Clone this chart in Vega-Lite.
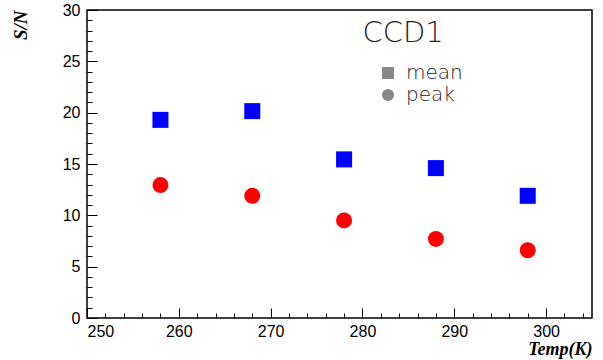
{
  "$schema": "https://vega.github.io/schema/vega-lite/v6.json",
  "width": 505,
  "height": 308,
  "autosize": {"type": "none"},
  "padding": {"left": 87, "top": 10, "right": 11, "bottom": 42},
  "background": "white",
  "config": {
    "view": {"stroke": "black", "strokeWidth": 1.5},
    "axis": {"grid": false, "domain": false, "labelFont": "Liberation Sans", "labelFontSize": 16, "labelColor": "black", "tickColor": "black", "titleColor": "black"}
  },
  "datasets": {
    "pts": [
      {"temp": 258, "sn": 19.3, "series": "mean"},
      {"temp": 268, "sn": 20.15, "series": "mean"},
      {"temp": 278, "sn": 15.45, "series": "mean"},
      {"temp": 288, "sn": 14.6, "series": "mean"},
      {"temp": 298, "sn": 11.9, "series": "mean"},
      {"temp": 258, "sn": 12.95, "series": "peak"},
      {"temp": 268, "sn": 11.9, "series": "peak"},
      {"temp": 278, "sn": 9.5, "series": "peak"},
      {"temp": 288, "sn": 7.7, "series": "peak"},
      {"temp": 298, "sn": 6.6, "series": "peak"}
    ],
    "label": [{"temp": 280, "sn": 26.9, "text": "CCD1"}]
  },
  "layer": [
    {
      "data": {"name": "label"},
      "mark": {"type": "text", "align": "left", "baseline": "alphabetic", "font": "DejaVu Sans", "fontWeight": 200, "fontSize": 29, "color": "#222"},
      "encoding": {
        "x": {"field": "temp", "type": "quantitative", "scale": {"domain": [250, 305], "nice": false, "zero": false},
              "axis": {"orient": "bottom", "values": [252,254,256,258,262,264,266,268,272,274,276,278,282,284,286,288,292,294,296,298,302,304], "labels": false, "tickSize": -5, "title": null}},
        "y": {"field": "sn", "type": "quantitative", "scale": {"domain": [0, 30], "nice": false},
              "axis": {"orient": "left", "values": [1,2,3,4,6,7,8,9,11,12,13,14,16,17,18,19,21,22,23,24,26,27,28,29], "labels": false, "tickSize": -5, "title": null}},
        "text": {"field": "text"}
      }
    },
    {
      "data": {"name": "pts"},
      "mark": {"type": "point", "filled": false, "opacity": 1, "size": 0, "fill": "#888", "fillOpacity": 1, "stroke": "black", "strokeWidth": 1.2},
      "encoding": {
        "x": {"field": "temp", "type": "quantitative", "axis": null},
        "y": {"field": "sn", "type": "quantitative", "axis": null},
        "shape": {"field": "series", "type": "nominal", "scale": {"domain": ["mean", "peak"], "range": ["square", "circle"]},
                  "legend": {"orient": "none", "legendX": 291, "legendY": 53, "title": null, "symbolSize": 144,
                             "symbolFillColor": "#888", "symbolStrokeColor": "black", "symbolStrokeWidth": 1.2,
                             "labelFont": "DejaVu Sans", "labelFontSize": 20, "labelFontWeight": 200, "labelColor": "#222", "labelOffset": 8, "rowPadding": 2}}
      }
    },
    {
      "data": {"name": "pts"},
      "mark": {"type": "point", "filled": true, "opacity": 1, "size": 256},
      "encoding": {
        "x": {"field": "temp", "type": "quantitative",
              "axis": {"orient": "bottom", "values": [250,260,270,280,290,300], "tickSize": -10, "labelPadding": 15, "title": "Temp(K)", "titleFont": "Liberation Serif", "titleFontSize": 18, "titleFontStyle": "italic", "titleFontWeight": "bold", "titleAnchor": "end", "titlePadding": 1}},
        "y": {"field": "sn", "type": "quantitative",
              "axis": {"orient": "left", "values": [0,5,10,15,20,25,30], "tickSize": -10, "labelPadding": 17, "title": "S/N", "titleFont": "Liberation Serif", "titleFontSize": 19, "titleFontStyle": "italic", "titleFontWeight": "bold", "titleAnchor": "end", "titlePadding": 32}},
        "color": {"condition": {"test": "datum.series === 'mean'", "value": "#0000ff"}, "value": "#ff0000"},
        "shape": {"field": "series", "type": "nominal", "legend": null}
      }
    }
  ],
  "resolve": {"axis": {"x": "independent", "y": "independent"}}
}
